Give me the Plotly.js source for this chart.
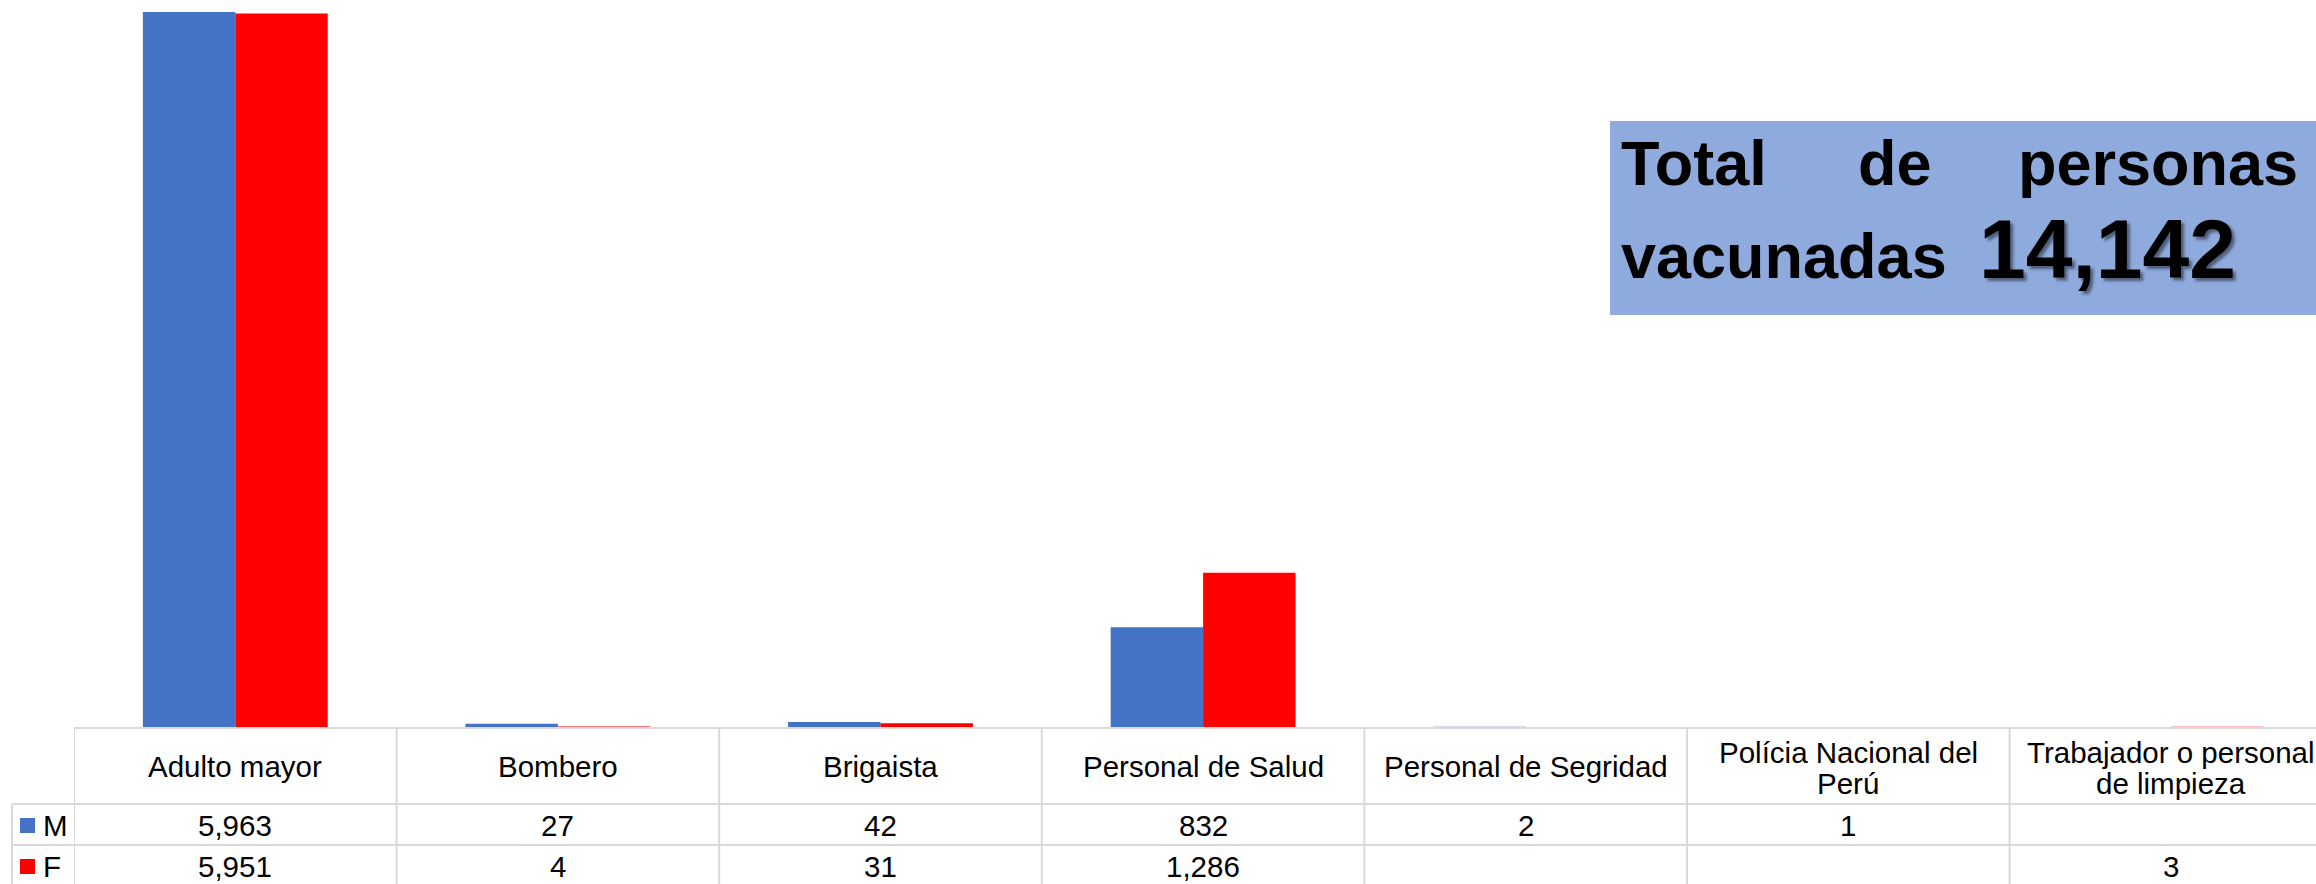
<!DOCTYPE html>
<html>
<head>
<meta charset="utf-8">
<script src="https://cdn.plot.ly/plotly-3.0.1.min.js"></script>
<style>html,body{margin:0;padding:0;background:#fff;}#chart{width:2316px;height:884px;}</style>
</head>
<body>
<div id="chart"></div>
<script>
// ---- data ----
const categories = ["Adulto mayor", "Bombero", "Brigaista", "Personal de Salud", "Personal de Segridad", "Polícia Nacional del<br>Perú", "Trabajador o personal<br>de limpieza"];
const seriesNames = ["M", "F"];
const valuesM = [5963, 27, 42, 832, 2, 1, null];
const valuesF = [5951, 4, 31, 1286, null, null, 3];
const totalLabel1 = ["Total", "de", "personas"];
const totalLabel2 = "vacunadas";
const totalValue = "14,142";

// ---- layout helpers (pixel -> paper) ----
const W = 2316, H = 884, L = 74, R = 0, T = 0, B = 157;
const plotW = W - L - R, plotH = H - T - B;
const px2x = px => (px - L) / plotW;
const py2y = py => (H - B - py) / plotH;

const blue = "#4472C4", red = "#FF0000", grid = "#D9D9D9";
const fontFam = "Liberation Sans, Arial, sans-serif";
const idx = categories.map((c, i) => i);

const traces = [
  {type: "bar", name: seriesNames[0], x: idx, y: valuesM, marker: {color: blue}, hoverinfo: "none"},
  {type: "bar", name: seriesNames[1], x: idx, y: valuesF, marker: {color: red}, hoverinfo: "none"}
];

const fmt = v => (v === null || v === undefined) ? "" : v.toLocaleString("en-US");

const shapes = [];
const lineStyle = {color: grid, width: 2};
// horizontal table lines
shapes.push({type: "line", xref: "paper", yref: "paper", x0: px2x(74), x1: 1.02, y0: py2y(728), y1: py2y(728), line: lineStyle});
shapes.push({type: "line", xref: "paper", yref: "paper", x0: px2x(12), x1: 1.02, y0: py2y(804), y1: py2y(804), line: lineStyle});
shapes.push({type: "line", xref: "paper", yref: "paper", x0: px2x(12), x1: 1.02, y0: py2y(845), y1: py2y(845), line: lineStyle});
// vertical table lines
for (let i = 0; i <= categories.length; i++) {
  shapes.push({type: "line", xref: "x", yref: "paper", x0: i - 0.5, x1: i - 0.5, y0: py2y(728), y1: py2y(900), line: lineStyle});
}
shapes.push({type: "line", xref: "paper", yref: "paper", x0: px2x(12), x1: px2x(12), y0: py2y(804), y1: py2y(900), line: lineStyle});
// legend keys
shapes.push({type: "rect", xref: "paper", yref: "paper", x0: px2x(20), x1: px2x(35), y0: py2y(833), y1: py2y(818), fillcolor: blue, line: {width: 0}});
shapes.push({type: "rect", xref: "paper", yref: "paper", x0: px2x(20), x1: px2x(35), y0: py2y(874), y1: py2y(859), fillcolor: red, line: {width: 0}});
// total box
shapes.push({type: "rect", xref: "paper", yref: "paper", x0: px2x(1610), x1: px2x(2340), y0: py2y(315), y1: py2y(121), fillcolor: "#8FAADC", line: {width: 0}, layer: "below"});

const annotations = [];
const cellFont = {family: fontFam, size: 29.5, color: "#000"};
categories.forEach((c, i) => {
  const parts = c.split("<br>");
  if (parts.length === 1) {
    annotations.push({xref: "x", yref: "paper", x: i, y: py2y(766), text: parts[0], showarrow: false, font: cellFont, xanchor: "center", yanchor: "middle"});
  } else {
    annotations.push({xref: "x", yref: "paper", x: i, y: py2y(752), text: parts[0], showarrow: false, font: cellFont, xanchor: "center", yanchor: "middle"});
    annotations.push({xref: "x", yref: "paper", x: i, y: py2y(783), text: parts[1], showarrow: false, font: cellFont, xanchor: "center", yanchor: "middle"});
  }
  annotations.push({xref: "x", yref: "paper", x: i, y: py2y(825), text: fmt(valuesM[i]), showarrow: false, font: cellFont, xanchor: "center", yanchor: "middle"});
  annotations.push({xref: "x", yref: "paper", x: i, y: py2y(866), text: fmt(valuesF[i]), showarrow: false, font: cellFont, xanchor: "center", yanchor: "middle"});
});
annotations.push({xref: "paper", yref: "paper", x: px2x(41), y: py2y(825), text: seriesNames[0], showarrow: false, font: cellFont, xanchor: "left", yanchor: "middle"});
annotations.push({xref: "paper", yref: "paper", x: px2x(41), y: py2y(866), text: seriesNames[1], showarrow: false, font: cellFont, xanchor: "left", yanchor: "middle"});

// total box text
const boxFont = {family: fontFam, size: 63, color: "#000", weight: "bold"};
annotations.push({xref: "paper", yref: "paper", x: px2x(1619), y: py2y(163), text: "<b>" + totalLabel1[0] + "</b>", showarrow: false, font: boxFont, xanchor: "left", yanchor: "middle"});
annotations.push({xref: "paper", yref: "paper", x: px2x(1856), y: py2y(163), text: "<b>" + totalLabel1[1] + "</b>", showarrow: false, font: boxFont, xanchor: "left", yanchor: "middle"});
annotations.push({xref: "paper", yref: "paper", x: px2x(2300), y: py2y(163), text: "<b>" + totalLabel1[2] + "</b>", showarrow: false, font: boxFont, xanchor: "right", yanchor: "middle"});
annotations.push({xref: "paper", yref: "paper", x: px2x(1619), y: py2y(256), text: "<b>" + totalLabel2 + "</b>", showarrow: false, font: boxFont, xanchor: "left", yanchor: "middle"});
annotations.push({xref: "paper", yref: "paper", x: px2x(1977), y: py2y(249), text: "<b>" + totalValue + "</b>", showarrow: false,
  font: {family: fontFam, size: 84, color: "#000", weight: "bold", shadow: "3px 3px 3px rgba(0,0,0,0.45)"}, xanchor: "left", yanchor: "middle"});

const layout = {
  width: W, height: H,
  margin: {l: L, r: R, t: T, b: B, pad: 0},
  paper_bgcolor: "#fff", plot_bgcolor: "#fff",
  barmode: "group", bargap: 0.427, bargroupgap: 0,
  showlegend: false,
  xaxis: {range: [-0.5, -0.5 + plotW / 322.6], showticklabels: false, showgrid: false, zeroline: false, showline: false, ticks: "", fixedrange: true},
  yaxis: {range: [0, 6063], showticklabels: false, showgrid: false, zeroline: false, showline: false, ticks: "", fixedrange: true},
  shapes: shapes,
  annotations: annotations,
  font: {family: fontFam}
};

Plotly.newPlot("chart", traces, layout, {displayModeBar: false, staticPlot: true});
</script>
</body>
</html>
